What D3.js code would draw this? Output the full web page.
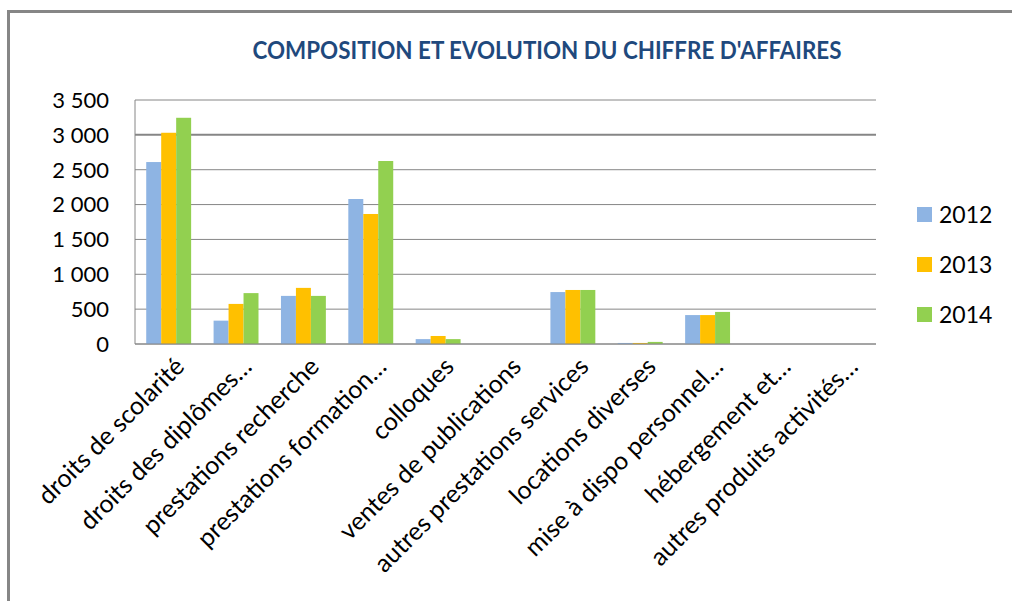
<!DOCTYPE html>
<html>
<head>
<meta charset="utf-8">
<script src="https://cdn.jsdelivr.net/npm/d3@7"></script>
<style>
  body { margin: 0; background: #fff; }
  svg { display: block; }
</style>
</head>
<body>
<svg width="1012" height="601"></svg>
<script>
// donnees
const categories = [
  "droits de scolarité", "droits des diplômes…", "prestations recherche",
  "prestations formation…", "colloques", "ventes de publications",
  "autres prestations services", "locations diverses", "mise à dispo personnel…",
  "hébergement et…", "autres produits activités…"
];
const years = ["2012", "2013", "2014"];
const v2012 = [2610, 335, 690, 2080, 70, 0, 745, 15, 415, 0, 0];
const v2013 = [3030, 575, 805, 1865, 115, 0, 775, 15, 415, 0, 0];
const v2014 = [3245, 730, 690, 2625, 70, 0, 775, 30, 460, 0, 0];
const yTicks = [0, 500, 1000, 1500, 2000, 2500, 3000, 3500];
const colors = ["#8EB4E3", "#FFC000", "#92D050"];

const series = [v2012, v2013, v2014];

const svg = d3.select("svg");
const plotL = 135, plotR = 876, plotT = 100, plotB = 344;

// cadre
svg.append("path")
    .attr("d", "M8.5,601 L8.5,11.5 L1012,11.5")
    .attr("fill", "none")
    .attr("stroke", "#868686")
    .attr("stroke-width", 3);

svg.append("text")
    .attr("x", 547).attr("y", 59)
    .attr("text-anchor", "middle")
    .attr("font-family", "Lato")
    .attr("font-weight", "bold")
    .attr("font-size", 25)
    .attr("fill", "#1F497D")
    .attr("textLength", 589)
    .attr("lengthAdjust", "spacingAndGlyphs")
    .text("COMPOSITION ET EVOLUTION DU CHIFFRE D'AFFAIRES");

const x0 = d3.scaleBand().domain(categories).range([plotL, plotR]);
const x1 = d3.scaleBand().domain(years).range([0, x0.bandwidth()]).paddingOuter(0.75);
const y = d3.scaleLinear().domain([0, 3500]).range([plotB, plotT]);

const fmt = d3.formatLocale({ decimal: ",", thousands: " ", grouping: [3], currency: ["", "€"] }).format(",");

// grille
svg.append("g")
  .selectAll("line")
  .data(yTicks)
  .join("line")
    .attr("x1", plotL).attr("x2", plotR)
    .attr("y1", d => y(d)).attr("y2", d => y(d))
    .attr("stroke", "#868686")
    .attr("stroke-width", d => d === 3000 ? 2 : 1);

svg.append("line")
    .attr("x1", plotL).attr("x2", plotL)
    .attr("y1", plotT).attr("y2", plotB)
    .attr("stroke", "#868686");

svg.append("g")
  .selectAll("text")
  .data(yTicks)
  .join("text")
    .attr("x", 109)
    .attr("y", d => y(d))
    .attr("dy", "0.36em")
    .attr("text-anchor", "end")
    .attr("font-family", "Lato")
    .attr("font-size", 22)
    .attr("fill", "#000")
    .text(d => fmt(d));

// barres
const groups = svg.append("g")
  .selectAll("g")
  .data(categories)
  .join("g")
    .attr("transform", d => `translate(${x0(d)},0)`);

groups.selectAll("rect")
  .data((d, i) => years.map((yr, j) => ({ yr, v: series[j][i], c: colors[j] })))
  .join("rect")
    .attr("x", d => x1(d.yr))
    .attr("width", x1.bandwidth())
    .attr("y", d => y(d.v))
    .attr("height", d => plotB - y(d.v))
    .attr("fill", d => d.c);

svg.append("line")
    .attr("x1", plotL).attr("x2", plotR)
    .attr("y1", plotB).attr("y2", plotB)
    .attr("stroke", "#868686");

// etiquettes
svg.append("g")
  .selectAll("text")
  .data(categories)
  .join("text")
    .attr("transform", d => `translate(${x0(d) + x0.bandwidth() / 2 + 11},362) rotate(-45)`)
    .attr("dy", "0.35em")
    .attr("text-anchor", "end")
    .attr("font-family", "Lato")
    .attr("font-size", 25)
    .attr("fill", "#000")
    .text(d => d);

// legende
const leg = svg.append("g")
  .selectAll("g")
  .data(years)
  .join("g")
    .attr("transform", (d, i) => `translate(917,${207 + i * 50})`);

leg.append("rect")
    .attr("width", 15).attr("height", 15)
    .attr("fill", (d, i) => colors[i]);

leg.append("text")
    .attr("x", 22).attr("y", 7.5)
    .attr("dy", "0.36em")
    .attr("font-family", "Lato")
    .attr("font-size", 23)
    .attr("fill", "#000")
    .text(d => d);
</script>
</body>
</html>
